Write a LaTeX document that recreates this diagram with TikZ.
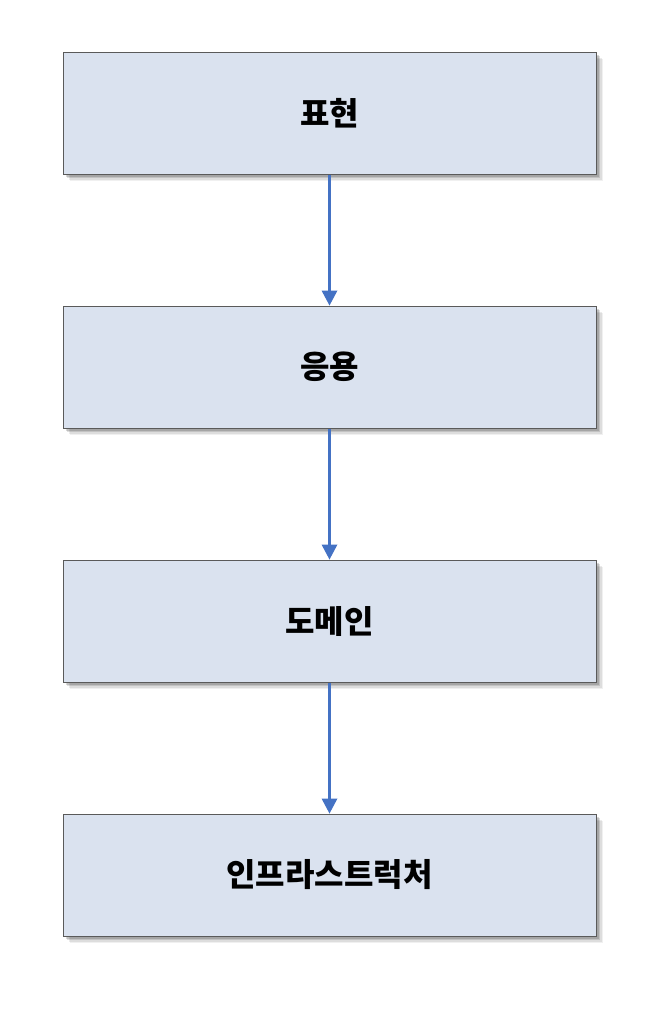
\documentclass[tikz,border=0pt]{standalone}
\usepackage{fontspec}
\newfontfamily\kr{Noto Sans CJK KR Black}
\usetikzlibrary{shadows,arrows.meta}
\definecolor{boxfill}{HTML}{DAE2EF}
\definecolor{boxline}{HTML}{5A5A5A}
\definecolor{arrowblue}{HTML}{4472C4}
\tikzset{
  layer/.style={draw=boxline, line width=1pt, fill=boxfill, minimum width=533pt, minimum height=122pt, inner sep=0pt,
    font=\kr\fontsize{32}{36}\selectfont,
    drop shadow={shadow xshift=7pt, shadow yshift=-7pt, opacity=0.06, fill=black},
    drop shadow={shadow xshift=5.5pt, shadow yshift=-5.5pt, opacity=0.08, fill=black},
    drop shadow={shadow xshift=4pt, shadow yshift=-4pt, opacity=0.12, fill=black},
    drop shadow={shadow xshift=2.5pt, shadow yshift=-2.5pt, opacity=0.15, fill=black}},
  link/.style={draw=arrowblue, fill=arrowblue, line width=2.1pt, -{Triangle[width=16pt,length=15pt,line width=0pt]}}
}
\begin{document}
\begin{tikzpicture}[x=1pt,y=-1pt]
\useasboundingbox (0,0) rectangle (656,1034);
\node[layer] (a) at (329.5,113) {표현};
\node[layer] (b) at (329.5,367) {응용};
\node[layer] (c) at (329.5,621) {도메인};
\node[layer] (d) at (329.5,875) {인프라스트럭처};
\draw[link] (a.south) -- (b.north);
\draw[link] (b.south) -- (c.north);
\draw[link] (c.south) -- (d.north);
\end{tikzpicture}
\end{document}
